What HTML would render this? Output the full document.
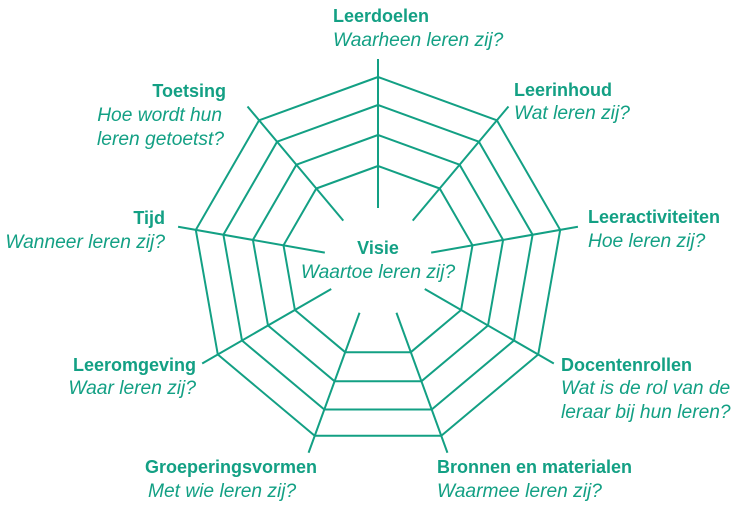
<!DOCTYPE html>
<html><head><meta charset="utf-8"><style>
html,body{margin:0;padding:0;background:#fff;width:739px;height:511px;overflow:hidden}
text{font-family:"Liberation Sans",sans-serif;font-size:18px;fill:#13a084}
.b{font-weight:bold}.i{font-style:italic;font-size:19.2px}
</style></head><body>
<svg id="s" width="739" height="511" viewBox="0 0 739 511" xmlns="http://www.w3.org/2000/svg">
<g id="g" stroke="#13a084" stroke-width="2" fill="none"></g>
<text class="b" x="333" y="22">Leerdoelen</text>
<text class="i" x="333" y="46">Waarheen leren zij?</text>
<text class="b" x="514" y="96">Leerinhoud</text>
<text class="i" x="514" y="119">Wat leren zij?</text>
<text class="b" x="588" y="223">Leeractiviteiten</text>
<text class="i" x="588" y="247">Hoe leren zij?</text>
<text class="b" x="561" y="371">Docentenrollen</text>
<text class="i" x="561" y="394">Wat is de rol van de</text>
<text class="i" x="561" y="418">leraar bij hun leren?</text>
<text class="b" x="437" y="473">Bronnen en materialen</text>
<text class="i" x="437" y="497">Waarmee leren zij?</text>
<text class="b" x="145" y="473">Groeperingsvormen</text>
<text class="i" x="148" y="497">Met wie leren zij?</text>
<text class="b" x="196" y="371" text-anchor="end">Leeromgeving</text>
<text class="i" x="196" y="394" text-anchor="end">Waar leren zij?</text>
<text class="b" x="165" y="224" text-anchor="end">Tijd</text>
<text class="i" x="165" y="248" text-anchor="end">Wanneer leren zij?</text>
<text class="b" x="226" y="97" text-anchor="end">Toetsing</text>
<text class="i" x="222" y="121" text-anchor="end">Hoe wordt hun</text>
<text class="i" x="224" y="145" text-anchor="end">leren getoetst?</text>
<text class="b" x="378" y="254" text-anchor="middle">Visie</text>
<text class="i" x="378" y="278" text-anchor="middle">Waartoe leren zij?</text>
</svg>
<script>
var g=document.getElementById('g'),cx=378,cy=262,ns="http://www.w3.org/2000/svg";
function pt(r,k){var a=k*40*Math.PI/180;return [cx+r*Math.sin(a),cy-r*Math.cos(a)];}
[185,157,127,96].forEach(function(r){var p=[];for(var k=0;k<9;k++){var q=pt(r,k);p.push(q[0].toFixed(1)+","+q[1].toFixed(1));}
var e=document.createElementNS(ns,'polygon');e.setAttribute('points',p.join(' '));g.appendChild(e);});
for(var k=0;k<9;k++){var a=pt(54,k),b=pt(203,k);var l=document.createElementNS(ns,'line');
l.setAttribute('x1',a[0]);l.setAttribute('y1',a[1]);l.setAttribute('x2',b[0]);l.setAttribute('y2',b[1]);g.appendChild(l);}
</script>
</body></html>
